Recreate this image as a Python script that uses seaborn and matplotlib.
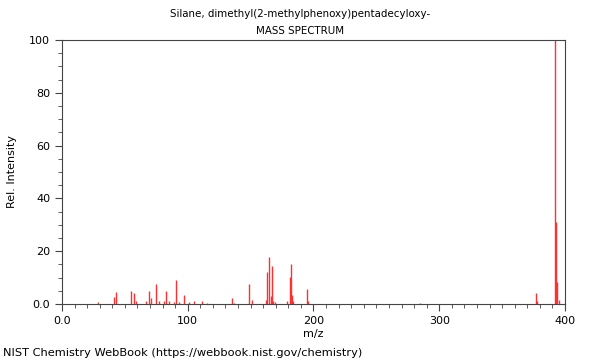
import matplotlib
matplotlib.use("Agg")
import matplotlib.pyplot as plt
import seaborn as sns
from matplotlib.ticker import MultipleLocator, FuncFormatter

# peak list (m/z, relative intensity)
mz = [29, 41, 43, 55, 57, 59, 67, 69, 71, 75, 77, 81, 83, 85, 89, 91, 93,
      97, 101, 105, 111, 115, 135, 137, 149, 151, 162, 163, 165, 166, 167,
      168, 169, 179, 181, 182, 183, 184, 195, 196, 285, 377, 378, 392, 393,
      394, 395]
intensity = [0.9, 2.8, 4.7, 4.9, 4.0, 1.0, 1.0, 4.9, 2.1, 7.7, 1.2, 1.0, 4.8,
             1.1, 0.9, 9.2, 0.6, 3.5, 0.8, 1.0, 1.3, 0.5, 2.4, 0.5, 7.4, 1.4,
             1.6, 12.0, 17.9, 3.2, 14.4, 1.3, 0.6, 1.3, 10.1, 15.3, 3.5, 1.2,
             5.8, 1.0, 0.5, 4.0, 1.0, 100.0, 31.0, 8.4, 1.5]

title = "Silane, dimethyl(2-methylphenoxy)pentadecyloxy-"
subtitle = "MASS SPECTRUM"
footer = "NIST Chemistry WebBook (https://webbook.nist.gov/chemistry)"

sns.set_style("ticks")
plt.rcParams['font.family'] = ['DejaVu Sans']
plt.rcParams['text.color'] = 'black'
plt.rcParams['axes.labelcolor'] = 'black'
plt.rcParams['xtick.color'] = '#444444'
plt.rcParams['ytick.color'] = '#444444'
plt.rcParams['xtick.labelcolor'] = 'black'
plt.rcParams['ytick.labelcolor'] = 'black'

fig = plt.figure(figsize=(6, 3.6), dpi=100)
ax = fig.add_axes([0.1033, 0.1556, 0.8384, 0.7333])

ax.vlines(mz, 0, intensity, colors="#ff3030", linewidth=1.0)

ax.set_xlim(0, 400)
ax.set_ylim(0, 100)
ax.xaxis.set_major_locator(MultipleLocator(100))
ax.xaxis.set_minor_locator(MultipleLocator(10))
ax.yaxis.set_major_locator(MultipleLocator(20))
ax.yaxis.set_minor_locator(MultipleLocator(5))
fmt = FuncFormatter(lambda v, p: "0.0" if v == 0 else f"{v:.0f}")
ax.xaxis.set_major_formatter(fmt)
ax.yaxis.set_major_formatter(fmt)
ax.tick_params(which="major", length=5, width=0.8, labelsize=8, direction="out")
ax.tick_params(which="minor", length=3, width=0.6, direction="out")
for s in ax.spines.values():
    s.set_color("#444444")
    s.set_linewidth(0.8)

ax.set_xlabel("m/z", fontsize=8, labelpad=2)
ax.set_ylabel("Rel. Intensity", fontsize=8, labelpad=9)

fig.text(0.5, 0.962, title, ha="center", va="center", fontsize=7.4)
fig.text(0.5, 0.915, subtitle, ha="center", va="center", fontsize=7.4)
fig.text(0.005, 0.02, footer, ha="left", va="center", fontsize=8.2)

fig.savefig("out.png", dpi=100)
